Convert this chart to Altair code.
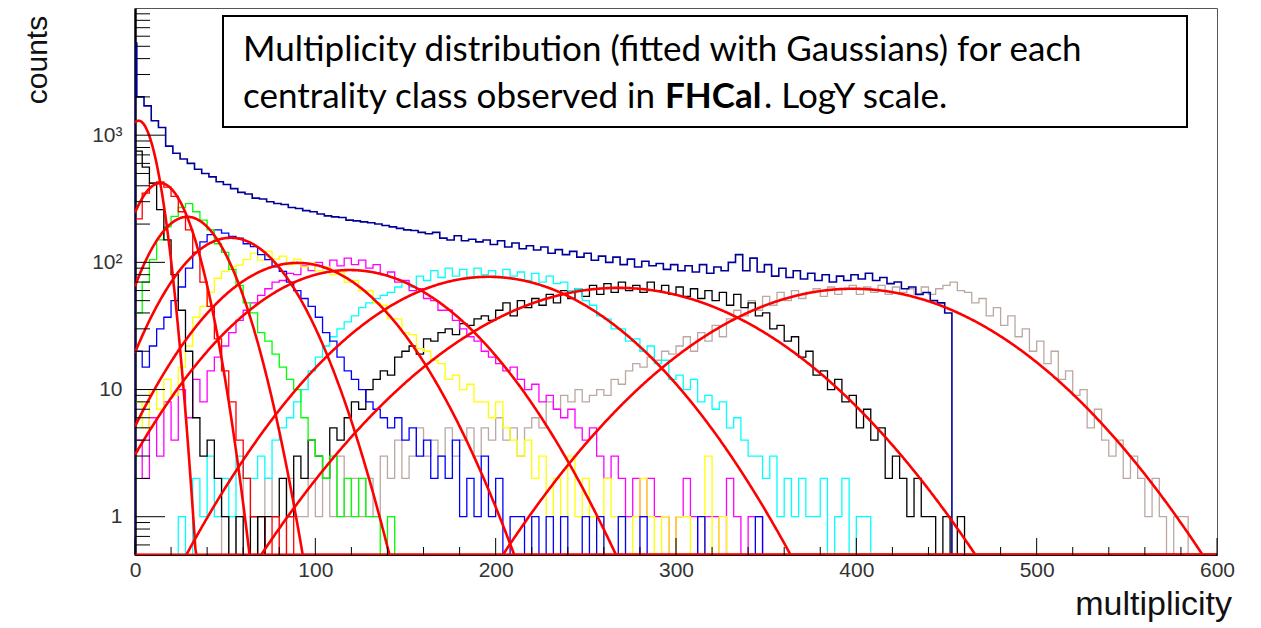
import altair as alt
import numpy as np
import pandas as pd

BIN_WIDTH = 4
X_DOMAIN = [0, 600]
Y_DOMAIN = [0.5, 10000]
X_LABELS = [0, 100, 200, 300, 400, 500, 600]
X_MINOR = [20, 40, 60, 80, 120, 140, 160, 180, 220, 240, 260, 280, 320, 340, 360, 380,
           420, 440, 460, 480, 520, 540, 560, 580]
Y_LABELS = [1, 10, 100, 1000]
Y_MINOR = [0.6, 0.7, 0.8, 0.9, 2, 3, 4, 5, 6, 7, 8, 9, 20, 30, 40, 50, 60, 70, 80, 90,
           200, 300, 400, 500, 600, 700, 800, 900, 2000, 3000, 4000, 5000, 6000, 7000, 8000, 9000]

# ---- histograms (counts per 4-unit bin) ----
TOTAL_FIRST_BIN = [0, 1, 5300]   # narrow first bin: from, to, count
TOTAL_START = 1
TOTAL = [2000, 1700, 1300, 1150, 820, 720, 650, 600, 540, 500, 470, 430, 410, 380, 355, 345,
         320, 315, 300, 290, 285, 270, 265, 255, 250, 240, 232, 228, 225, 215, 212, 208,
         205, 200, 195, 190, 185, 180, 178, 172,
         168, 172, 155, 150, 162, 148, 152, 145, 150, 138, 148, 132, 142, 128, 135, 125,
         132, 118, 126, 115, 122, 110, 118, 104, 112, 100, 110, 96, 106, 92, 102, 94, 98,
         88, 96, 86, 94, 84, 96, 82, 92, 86, 100, 115, 86, 108, 84, 96, 78, 90, 76, 86, 74,
         82, 72, 80, 70, 78, 72, 80, 74, 82, 72, 76, 68, 70, 62, 64, 56, 58, 50, 48, 40]

C1_START = 0
C1 = [750, 560, 420, 260, 150, 80, 42, 20, 6, 3, 4, 2, 1, 0, 1, 0, 0, 1]

C2_START = 0
C2 = [220, 350, 420, 430, 390, 330, 250, 180, 120, 70, 45, 25, 14, 8, 4, 2, 1, 1, 0, 1, 0, 1]

C3_START = 0
C3 = [40, 70, 105, 150, 190, 230, 270, 290, 250, 215, 180, 140, 120, 88, 66, 48, 40, 28,
      24, 19, 15, 12, 10, 6, 4, 3, 2, 3, 1, 2, 1, 2, 1, 1, 0, 1]

C4_START = 0
C4 = [20, 15, 22, 30, 37, 50, 64, 90, 120, 145, 165, 180, 170, 160, 155, 140, 133, 115,
      105, 92, 85, 70, 60, 52, 45, 37, 28, 24, 18, 14, 12, 10, 8, 7, 6, 5, 6, 4, 5, 3, 4,
      2, 3, 2, 4, 1, 2, 1, 3, 1, 2, 0, 1, 1, 0, 1, 0, 1, 0, 1, 0, 0, 1, 0, 1, 0, 0, 1, 0,
      0, 1, 0, 0, 0, 0, 0, 0, 0, 1, 0, 0, 0, 0, 0, 0, 0, 1]

C5_START = 0
C5 = [8, 5, 10, 7, 12, 9, 15, 22, 37, 45, 58, 75, 85, 92,
      95, 105, 118, 104, 122, 106, 112, 96, 106, 92, 98, 86, 92, 80, 84, 70, 72, 60, 60,
      48, 46, 36, 36, 28, 27, 21, 20, 17, 16, 12, 13, 10, 11, 8, 8, 6, 8, 5, 4, 3, 4, 2,
      3, 1, 2, 1, 3, 1, 2, 1, 0, 2, 1, 1, 0, 1, 2, 1, 0, 1, 0, 1, 1, 0, 0, 3, 0, 1]

C6_START = 0
C6 = [4, 2, 6, 3, 8, 4, 10, 6, 12, 8, 14, 18, 22, 28, 35, 42, 48, 55, 62, 70,
      72, 82, 80, 94, 86, 100, 90, 104, 94, 108, 96, 104, 90, 96, 80, 84, 70, 72, 60, 62,
      52, 50, 42, 42, 35, 30, 26, 24, 20, 18, 16, 14, 15, 12, 10, 11, 8, 9, 7, 6, 7, 5, 4,
      5, 3, 2, 3, 2, 1, 2, 1, 2, 1, 1, 0, 1, 2, 1, 0, 1, 1, 0, 2, 1, 0, 1, 1]

C7_START = 24
C7 = [1, 0, 2, 1, 3, 1, 2, 1, 3, 2, 2, 3, 2, 4, 5, 6, 8, 10, 14, 18, 22, 26, 30, 34, 38,
      44, 48, 52, 55, 58,
      64, 70, 64, 78, 72, 86, 76, 90, 78, 88, 76, 90, 80, 86, 76, 88, 78, 84, 72, 82, 70,
      78, 68, 70, 60, 62, 50, 46, 38, 36, 30, 30, 24, 25, 20, 22, 16, 17, 12, 13, 10, 12,
      8, 9, 7, 8, 5, 6, 4, 3, 3, 2, 3, 1, 2, 1, 2, 1, 1, 2, 0, 1, 2, 0, 1, 1]

C8_START = 60
C8 = [0, 1, 0, 1, 1, 2, 1, 3, 2, 4, 3, 2, 5, 4, 6, 8, 7, 10, 12, 14, 13, 18, 20, 22, 19,
      25, 24, 28, 30, 27, 33, 32, 36, 38, 35,
      42, 48, 38, 50, 44, 52, 46, 56, 48, 60, 52, 62, 54, 66, 56, 68, 58, 70, 60, 66, 58,
      70, 60, 66, 56, 64, 54, 62, 52, 60, 50, 58, 46, 56, 44, 48, 38, 40, 30, 32, 24, 26,
      18, 20, 13, 14, 10, 12, 8, 9, 5, 7, 4, 5, 2, 3, 2, 1, 2, 1, 1, 0, 1, 0, 1]

C9_START = 48
C9 = [1, 0, 1, 2, 1, 1, 2, 1, 0, 2, 1, 1, 2, 1, 2, 1, 3, 1, 2, 1, 2, 1, 3, 2, 4, 2, 3, 5,
      3, 4, 3, 5, 3, 4, 5, 3, 5, 4, 6, 4, 5, 3, 5, 6, 5, 8, 7, 9, 8, 10, 8, 9, 10, 9, 12,
      11, 14, 16, 15, 18, 17, 20, 19,
      22, 26, 20, 28, 24, 32, 26, 36, 42, 38, 50, 42, 54, 46, 58, 50, 60, 52, 58, 62, 54,
      64, 56, 62, 66, 56, 64, 58, 66, 56, 64, 58, 62, 56, 64, 56, 62, 66, 70, 60, 58, 48,
      52, 38, 44, 32, 38, 26, 30, 20, 24, 16, 20, 12, 14, 9, 10, 5, 7, 4, 3, 4, 2, 3, 2,
      1, 2, 1, 0, 1, 1]

HISTS = [
    ("c9", C9_START, C9, "#bba8a2"),
    ("c8", C8_START, C8, "#000000"),
    ("c7", C7_START, C7, "#00ffff"),
    ("c6", C6_START, C6, "#ff00ff"),
    ("c5", C5_START, C5, "#ffff00"),
    ("c4", C4_START, C4, "#0000ff"),
    ("c3", C3_START, C3, "#00ff00"),
    ("c2", C2_START, C2, "#ff0000"),
    ("c1", C1_START, C1, "#000000"),
]

# ---- Gaussian fits (amplitude, mean, sigma) ----
FIT_AMP = [1300, 420, 228, 156, 99, 87, 77, 63, 62]
FIT_MEAN = [2, 14, 29, 53, 90, 119, 196, 268, 398]
FIT_SIGMA = [8, 13.5, 18.3, 26, 37, 46, 52.8, 63.7, 62.5]

FLOOR = 0.45


def hist_rows(name, start, vals, first_bin=None):
    rows = []
    if first_bin is not None:
        lo, hi, c = first_bin
        rows.append((name, lo, FLOOR, 0))
        rows.append((name, lo, c, 1))
    else:
        rows.append((name, start, FLOOR, 0))
    n0 = len(rows)
    for i, v in enumerate(vals):
        rows.append((name, start + i * BIN_WIDTH, max(v, FLOOR), n0 + i))
    end = start + len(vals) * BIN_WIDTH
    rows.append((name, end, max(vals[-1], FLOOR), n0 + len(vals)))
    rows.append((name, end, FLOOR, n0 + len(vals) + 1))
    return rows


rows = []
for name, start, vals, _ in HISTS:
    rows += hist_rows(name, start, vals)
hist_df = pd.DataFrame(rows, columns=["series", "x", "v", "i"])
total_df = pd.DataFrame(hist_rows("total", TOTAL_START, TOTAL, TOTAL_FIRST_BIN),
                        columns=["series", "x", "v", "i"])

fit_rows = []
grid = np.arange(0, 600.5, 0.5)
for k, (a, m, s) in enumerate(zip(FIT_AMP, FIT_MEAN, FIT_SIGMA)):
    vals = np.maximum(a * np.exp(-((grid - m) ** 2) / (2 * s * s)), 0.5)
    for xx, vv in zip(grid, vals):
        fit_rows.append((k, xx, vv))
fit_df = pd.DataFrame(fit_rows, columns=["fit", "x", "v"])

W, H = 1082, 547
AXFONT = "Liberation Sans"

x_enc = alt.X("x:Q", scale=alt.Scale(domain=X_DOMAIN, nice=False, zero=False),
              axis=alt.Axis(values=X_LABELS, ticks=False, grid=False, title=None,
                            labelFont=AXFONT, labelFontSize=21, labelColor="#333333",
                            labelPadding=4, domainColor="#000000", domainWidth=1,
                            labelFlush=False, format="d"))
y_enc = alt.Y("v:Q", scale=alt.Scale(type="log", domain=Y_DOMAIN, nice=False),
              axis=alt.Axis(values=Y_LABELS, ticks=False, grid=False, title=None,
                            labelFont=AXFONT, labelFontSize=21, labelColor="#333333",
                            labelPadding=13, domainColor="#000000", domainWidth=2.5,
                            labelFlush=False,
                            labelExpr="datum.value >= 1000 ? '10³' : datum.value >= 100 ? '10²' : datum.value >= 10 ? '10' : '1'"))

names = [h[0] for h in HISTS]
colors = [h[3] for h in HISTS]

hist_layer = alt.Chart(hist_df).mark_line(interpolate="step-after", strokeWidth=1.3, clip=True).encode(
    x=x_enc, y=y_enc,
    color=alt.Color("series:N", scale=alt.Scale(domain=names, range=colors), legend=None),
    order="i:Q",
)
total_layer = alt.Chart(total_df).mark_line(interpolate="step-after", strokeWidth=1.6,
                                            color="#000099", clip=True).encode(
    x=x_enc, y=y_enc, order="i:Q")
fit_layer = alt.Chart(fit_df).mark_line(color="#ff0000", strokeWidth=2.6, clip=True).encode(
    x=x_enc, y=y_enc, detail="fit:N")

xmaj = alt.Chart(pd.DataFrame({"x": X_LABELS})).mark_rule(color="#000000", strokeWidth=1).encode(
    x=x_enc, y=alt.value(H), y2=alt.value(H - 17))
xmin = alt.Chart(pd.DataFrame({"x": X_MINOR})).mark_rule(color="#000000", strokeWidth=1).encode(
    x=x_enc, y=alt.value(H), y2=alt.value(H - 8))
ymaj = alt.Chart(pd.DataFrame({"v": Y_LABELS})).mark_rule(color="#000000", strokeWidth=1).encode(
    y=y_enc, x=alt.value(0), x2=alt.value(30))
ymin = alt.Chart(pd.DataFrame({"v": Y_MINOR})).mark_rule(color="#000000", strokeWidth=1).encode(
    y=y_enc, x=alt.value(0), x2=alt.value(15))

box = alt.Chart(pd.DataFrame({"a": [0]})).mark_rect(fill="#ffffff", stroke="#000000", strokeWidth=2).encode(
    x=alt.value(88), x2=alt.value(1052), y=alt.value(8), y2=alt.value(119))

BOXFONT = "Lato"
BOXSIZE = 35
LINE1 = "Multiplicity distribution (fitted with Gaussians) for each"
LINE2A = "centrality class observed in"
LINE2B = "FHCal"
LINE2C = ". LogY scale."


def label(text, x, y, size, font, weight="normal", align="left", angle=0, color="#000000"):
    return alt.Chart(pd.DataFrame({"t": [text]})).mark_text(
        align=align, baseline="middle", font=font, fontSize=size, fontWeight=weight,
        angle=angle, color=color).encode(text="t:N", x=alt.value(x), y=alt.value(y))


t1 = label(LINE1, 108, 42, BOXSIZE, BOXFONT)
t2a = label(LINE2A, 108, 89, BOXSIZE, BOXFONT)
t2b = label(LINE2B, 530, 89, BOXSIZE, BOXFONT, weight="bold")
t2c = label(LINE2C, 629, 89, BOXSIZE, BOXFONT)
ylab = label("counts", -97, 52, 30, AXFONT, align="center", angle=270, color="#111111")
xlab = label("multiplicity", 1097, 597, 34, AXFONT, align="right", color="#111111")

chart = alt.layer(
    hist_layer, total_layer, fit_layer, xmaj, xmin, ymaj, ymin, box, t1, t2a, t2b, t2c, ylab, xlab
).properties(
    width=W, height=H, autosize="none",
    padding={"left": 135, "top": 8, "right": 44, "bottom": 73},
    background="#ffffff",
).configure_view(stroke="#555555", strokeWidth=1)

chart.save("out.html", embed_options={"renderer": "svg", "actions": False})
